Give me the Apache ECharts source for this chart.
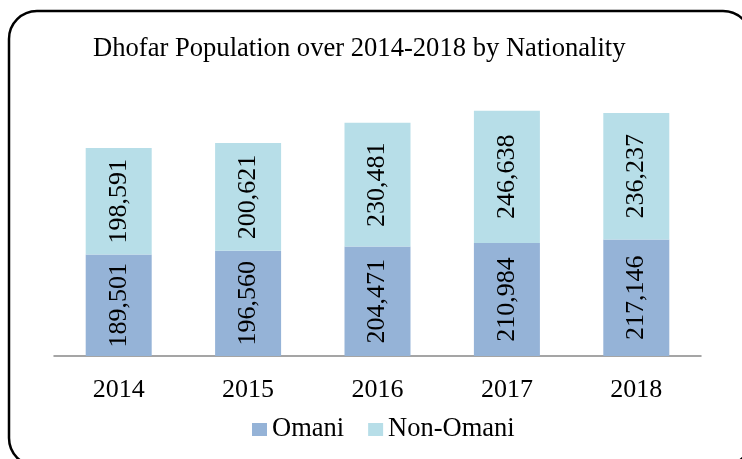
<!DOCTYPE html>
<html>
<head>
<meta charset="utf-8">
<script src="https://cdn.jsdelivr.net/npm/echarts@6/dist/echarts.min.js"></script>
<style>
  html, body { margin: 0; padding: 0; background: #fff; }
  #main { width: 742px; height: 459px; }
</style>
</head>
<body>
<div id="main"></div>
<script>
// data
const years = ['2014', '2015', '2016', '2017', '2018']
const omani = [189501, 196560, 204471, 210984, 217146]
const nonOmani = [198591, 200621, 230481, 246638, 236237]

const serif = "'Liberation Serif', 'Times New Roman', serif"

const chart = echarts.init(document.getElementById('main'))

const segLabel = {
  show: true,
  position: 'inside',
  rotate: 90,
  color: '#000',
  fontFamily: serif,
  fontSize: 26,
  formatter: (p) => p.value.toLocaleString('en-US')
}

const option = {
  backgroundColor: '#fff',
  animation: false,
  title: {
    text: 'Dhofar Population over 2014-2018 by Nationality',
    left: 88,
    top: 31,
    textStyle: { fontFamily: serif, fontSize: 26.6, fontWeight: 'normal', color: '#000' }
  },
  legend: {
    left: 247,
    top: 411,
    itemWidth: 15,
    itemHeight: 13,
    itemGap: 24,
    icon: 'rect',
    textStyle: { fontFamily: serif, fontSize: 26.5, color: '#000', padding: [0, 0, 0, 0] },
    data: ['Omani', 'Non-Omani']
  },
  grid: { left: 54, right: 41, top: 88, bottom: 103 },
  xAxis: {
    type: 'category',
    data: years,
    axisLine: { lineStyle: { color: '#888', width: 1.5 } },
    axisTick: { show: false },
    axisLabel: { color: '#000', fontFamily: serif, fontSize: 26, margin: 21 }
  },
  yAxis: {
    type: 'value',
    min: 0,
    max: 500000,
    show: false,
    splitLine: { show: false }
  },
  series: [
    {
      name: 'Omani',
      type: 'bar',
      stack: 'pop',
      barWidth: 66,
      data: omani,
      itemStyle: { color: '#95B3D7' },
      label: segLabel
    },
    {
      name: 'Non-Omani',
      type: 'bar',
      stack: 'pop',
      barWidth: 66,
      data: nonOmani,
      itemStyle: { color: '#B7DEE8' },
      label: segLabel
    }
  ],
  graphic: [
    {
      type: 'rect',
      silent: true,
      shape: { x: 9, y: 11, width: 742, height: 455, r: 28 },
      style: { fill: 'none', stroke: '#000', lineWidth: 2.5 }
    }
  ]
}

chart.setOption(option)
</script>
</body>
</html>
